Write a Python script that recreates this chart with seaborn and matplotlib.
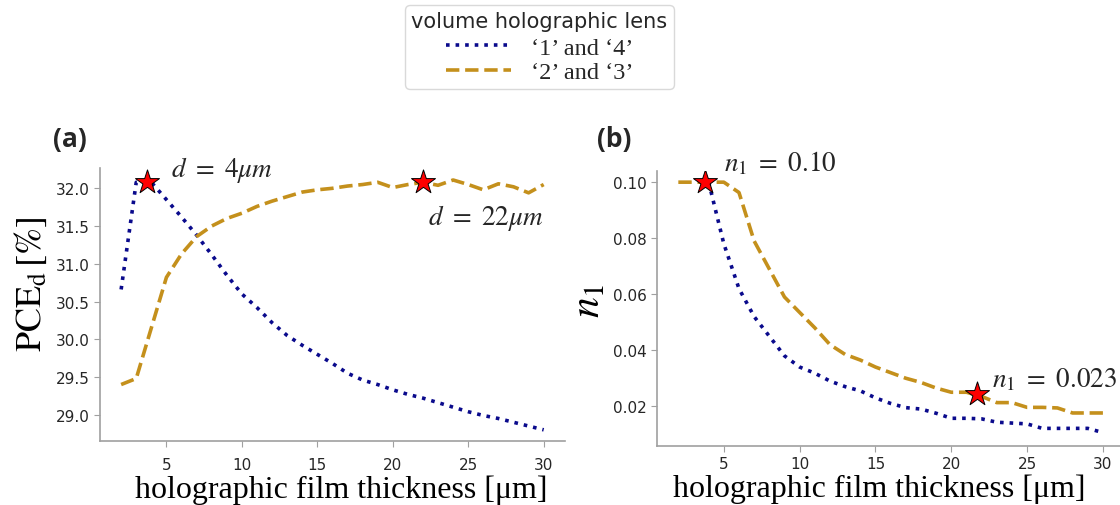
import numpy as np
import pandas as pd
import seaborn as sns
import matplotlib.pyplot as plt
from matplotlib.font_manager import FontProperties

sns.set_style("ticks")
plt.rcParams['mathtext.fontset'] = 'stix'
plt.rcParams['font.family'] = ['DejaVu Sans']

# ---------------- data ----------------
thickness = list(range(2, 31))

pce_14 = [30.66, 32.08, 32.08, 31.85, 31.62, 31.38, 31.12, 30.85, 30.60, 30.42,
          30.22, 30.05, 29.92, 29.80, 29.68, 29.55, 29.46, 29.40, 29.33, 29.27,
          29.22, 29.16, 29.10, 29.04, 28.99, 28.95, 28.90, 28.85, 28.80]
pce_23 = [29.40, 29.48, 30.15, 30.82, 31.13, 31.36, 31.50, 31.60, 31.67, 31.76,
          31.83, 31.89, 31.95, 31.98, 32.00, 32.03, 32.05, 32.08, 32.01, 32.05,
          32.08, 32.04, 32.11, 32.05, 31.98, 32.06, 32.02, 31.94, 32.05]

n1_14 = [np.nan, np.nan, 0.100, 0.078, 0.062, 0.052, 0.045, 0.038, 0.034, 0.0318,
         0.029, 0.027, 0.0255, 0.023, 0.021, 0.0195, 0.0190, 0.0175, 0.0157, 0.0157,
         0.0155, 0.0143, 0.0140, 0.0137, 0.0121, 0.0121, 0.0121, 0.0121, 0.0106]
n1_23 = [0.100, 0.100, 0.100, 0.100, 0.0963, 0.079, 0.069, 0.059, 0.0535, 0.048,
         0.042, 0.0385, 0.0365, 0.034, 0.032, 0.030, 0.0285, 0.0265, 0.025, 0.025,
         0.0235, 0.0213, 0.0213, 0.0196, 0.0196, 0.0194, 0.0176, 0.0176, 0.0176]

star_a_x = [3.7, 22.0]
star_a_y = [32.08, 32.08]
star_b_x = [3.75, 21.7]
star_b_y = [0.100, 0.0242]

series_labels = ["\u20181\u2019 and \u20184\u2019", "\u20182\u2019 and \u20183\u2019"]
legend_title = "volume holographic lens"
xticks = [5, 10, 15, 20, 25, 30]
yticks_a = [29.0, 29.5, 30.0, 30.5, 31.0, 31.5, 32.0]
yticks_b = [0.02, 0.04, 0.06, 0.08, 0.10]

BLUE = "#0a0a8c"
GOLD = "#c4901c"

fig = plt.figure(figsize=(11.2, 5.06), dpi=100)
ax_a = fig.add_axes([0.0893, 0.1259, 0.415, 0.5395])
ax_b = fig.add_axes([0.5867, 0.116, 0.417, 0.5447])

def draw(ax, y14, y23, sx, sy):
    sns.lineplot(x=thickness, y=y14, ax=ax, color=BLUE, lw=2.6, linestyle=':',
                 label=series_labels[0], legend=False)
    sns.lineplot(x=thickness, y=y23, ax=ax, color=GOLD, lw=2.6, linestyle='--',
                 label=series_labels[1], legend=False)
    sns.scatterplot(x=sx, y=sy, ax=ax, marker='*', s=330, color='red',
                    edgecolor='black', linewidth=0.7, zorder=5, legend=False)

draw(ax_a, pce_14, pce_23, star_a_x, star_a_y)
draw(ax_b, n1_14, n1_23, star_b_x, star_b_y)

for ax in (ax_a, ax_b):
    ax.set_xlim(0.6, 31.4)
    ax.set_xticks(xticks)
    sns.despine(ax=ax)
    for s in ("left", "bottom"):
        ax.spines[s].set_color("#a0a0a0")
        ax.spines[s].set_linewidth(1.2)
    ax.tick_params(colors="#a0a0a0", labelcolor="#262626", labelsize=11, length=4)

ax_a.set_ylim(28.648, 32.265)
ax_a.set_yticks(yticks_a)
ax_a.set_yticklabels([f"{v:.1f}" for v in yticks_a])
ax_b.set_ylim(0.0057, 0.1041)
ax_b.set_yticks(yticks_b)
ax_b.set_yticklabels([f"{v:.2f}" for v in yticks_b])
ax_a.tick_params(axis='x', pad=7)
ax_b.tick_params(axis='x', pad=3)

xl = "holographic film thickness [\u03bcm]"
ax_a.set_xlabel(xl, fontsize=23, family="Liberation Serif", color="black")
ax_b.set_xlabel(xl, fontsize=23, family="Liberation Serif", color="black")
ax_a.xaxis.set_label_coords(0.52, -0.12)
ax_b.xaxis.set_label_coords(0.475, -0.10)

ax_a.set_ylabel(r"$\mathrm{PCE_d}\,[\%]$", fontsize=26, color="black")
ax_a.yaxis.set_label_coords(-0.11, 0.58)
ax_b.set_ylabel(r"$n_1$", fontsize=30, color="black")
ax_b.yaxis.set_label_coords(-0.105, 0.53)

# annotations
ax_a.text(5.3, 32.25, r"$d\ =\ 4\mu m$", fontsize=19.5, va='center', ha='left')
ax_a.text(30.0, 31.62, r"$d\ =\ 22\mu m$", fontsize=19.5, va='center', ha='right')
ax_b.text(5.0, 0.1071, r"$n_1\ =\ 0.10$", fontsize=19.5, va='center', ha='left')
ax_b.text(22.7, 0.0297, r"$n_1\ =\ 0.023$", fontsize=19.5, va='center', ha='left')

fig.text(53 / 1120, 1 - 140 / 506, "(a)", fontsize=19, fontweight='bold',
         family="Open Sans", va='center', ha='left')
fig.text(597 / 1120, 1 - 140 / 506, "(b)", fontsize=19, fontweight='bold',
         family="Open Sans", va='center', ha='left')

handles = ax_a.get_lines()[:2]
leg = fig.legend(handles, series_labels, title=legend_title,
                 loc='upper center', bbox_to_anchor=(0.4817, 0.988),
                 borderaxespad=0.0,
                 prop=FontProperties(family="Liberation Serif", size=17.5),
                 title_fontproperties=FontProperties(family="DejaVu Sans", size=15),
                 handlelength=2.7, handletextpad=0.8, borderpad=0.25,
                 labelspacing=0.1, frameon=True, fancybox=True)
leg.get_frame().set_edgecolor("#d0d0d0")
leg._legend_box.sep = 4

fig.savefig("out.png", dpi=100)
